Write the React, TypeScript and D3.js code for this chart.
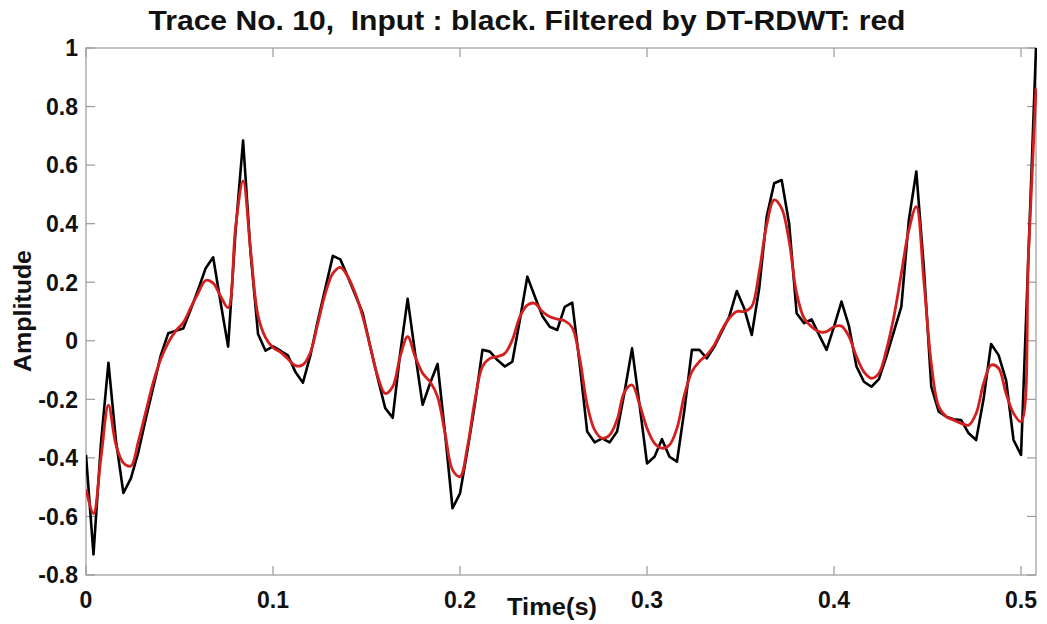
import React from "react";
import * as d3 from "d3";

const sampleInterval = 0.004;

const inputTrace = [
  -0.39, -0.73, -0.35, -0.075, -0.34, -0.52, -0.47, -0.38, -0.265, -0.158,
  -0.05, 0.026, 0.034, 0.042, 0.107, 0.175, 0.248, 0.285, 0.13, -0.02,
  0.377, 0.684, 0.3, 0.023, -0.034, -0.019, -0.034, -0.05, -0.107, -0.143,
  -0.05, 0.07, 0.18, 0.29, 0.278, 0.219, 0.156, 0.094, -0.02, -0.128,
  -0.23, -0.263, -0.043, 0.143, -0.043, -0.219, -0.145, -0.079, -0.316, -0.572,
  -0.521, -0.373, -0.214, -0.031, -0.037, -0.066, -0.088, -0.071, 0.071, 0.219,
  0.151, 0.085, 0.048, 0.037, 0.116, 0.13, -0.08, -0.31, -0.347, -0.333,
  -0.347, -0.31, -0.174, -0.026, -0.219, -0.419, -0.396, -0.336, -0.396, -0.413,
  -0.236, -0.031, -0.031, -0.06, -0.02, 0.031, 0.083, 0.17, 0.11, 0.02,
  0.18, 0.424, 0.538, 0.549, 0.4, 0.094, 0.06, 0.073, 0.02, -0.031,
  0.048, 0.134, 0.05, -0.088, -0.14, -0.157, -0.131, -0.054, 0.031, 0.117,
  0.412, 0.578, 0.253, -0.157, -0.242, -0.259, -0.268, -0.271, -0.316, -0.339,
  -0.197, -0.011, -0.049, -0.134, -0.339, -0.39, 0.3, 1.0,
];

const filteredTrace = [
  -0.507, -0.59, -0.4, -0.22, -0.355, -0.417, -0.428, -0.344, -0.242, -0.141,
  -0.062, -0.006, 0.034, 0.062, 0.113, 0.163, 0.206, 0.197, 0.152, 0.113,
  0.389, 0.546, 0.31, 0.085, 0.011, -0.023, -0.039, -0.062, -0.085, -0.082,
  -0.04, 0.06, 0.162, 0.23, 0.251, 0.219, 0.162, 0.082, -0.02, -0.122,
  -0.18, -0.157, -0.054, 0.014, -0.054, -0.111, -0.14, -0.191, -0.316, -0.441,
  -0.464, -0.362, -0.202, -0.088, -0.06, -0.054, -0.043, 0.003, 0.082, 0.122,
  0.128, 0.1, 0.082, 0.074, 0.068, 0.045, -0.06, -0.219, -0.305, -0.333,
  -0.322, -0.27, -0.174, -0.151, -0.217, -0.299, -0.35, -0.367, -0.356, -0.299,
  -0.185, -0.105, -0.071, -0.048, -0.014, 0.037, 0.077, 0.1, 0.1, 0.117,
  0.236, 0.396, 0.481, 0.452, 0.34, 0.162, 0.077, 0.048, 0.031, 0.031,
  0.048, 0.05, 0.014, -0.054, -0.106, -0.128, -0.111, -0.031, 0.082, 0.23,
  0.378, 0.458, 0.208, -0.077, -0.225, -0.259, -0.271, -0.282, -0.288, -0.248,
  -0.145, -0.083, -0.094, -0.18, -0.248, -0.276, 0.3, 0.862,
];

const xTicks = [0, 0.1, 0.2, 0.3, 0.4, 0.5];
const xTickLabels = ["0", "0.1", "0.2", "0.3", "0.4", "0.5"];
const yTicks = [-0.8, -0.6, -0.4, -0.2, 0, 0.2, 0.4, 0.6, 0.8, 1];
const yTickLabels = ["-0.8", "-0.6", "-0.4", "-0.2", "0", "0.2", "0.4", "0.6", "0.8", "1"];

const titleText = "Trace No. 10,  Input : black. Filtered by DT-RDWT: red";
const xLabel = "Time(s)";
const yLabel = "Amplitude";

export default function App() {
  const W = 1047;
  const H = 624;
  const left = 86;
  const right = 1036;
  const top = 48;
  const bottom = 575;
  const tMax = (inputTrace.length - 1) * sampleInterval;

  const x = d3.scaleLinear().domain([0, tMax]).range([left, right]);
  const y = d3.scaleLinear().domain([-0.8, 1]).range([bottom, top]);

  const line = d3
    .line<number>()
    .x((_, i) => x(i * sampleInterval))
    .y((d) => y(d));
  const smoothLine = d3
    .line<number>()
    .x((_, i) => x(i * sampleInterval))
    .y((d) => y(d))
    .curve(d3.curveCatmullRom.alpha(0.5));

  const font = "'Liberation Sans', Arial, Helvetica, sans-serif";
  const axisColor = "#9a9a9a";
  const tickLen = 9;

  return (
    <svg
      width={W}
      height={H}
      style={{ position: "absolute", left: 0, top: 0, background: "#fff" }}
      fontFamily={font}
    >
      <defs>
        <clipPath id="plotClip">
          <rect x={left} y={top} width={right - left + 1} height={bottom - top} />
        </clipPath>
      </defs>
      <rect x={0} y={0} width={W} height={H} fill="#fff" />

      {/* axes box */}
      <rect
        x={left}
        y={top}
        width={right - left}
        height={bottom - top}
        fill="none"
        stroke={axisColor}
        strokeWidth={1.2}
      />
      {xTicks.map((t) => (
        <g key={"xt" + t}>
          <line x1={x(t)} x2={x(t)} y1={bottom} y2={bottom - tickLen} stroke={axisColor} strokeWidth={1.2} />
          <line x1={x(t)} x2={x(t)} y1={top} y2={top + tickLen} stroke={axisColor} strokeWidth={1.2} />
        </g>
      ))}
      {yTicks.map((v) => (
        <g key={"yt" + v}>
          <line x1={left} x2={left + tickLen} y1={y(v)} y2={y(v)} stroke={axisColor} strokeWidth={1.2} />
          <line x1={right} x2={right - tickLen} y1={y(v)} y2={y(v)} stroke={axisColor} strokeWidth={1.2} />
        </g>
      ))}

      {/* data */}
      <g clipPath="url(#plotClip)">
        <path d={line(inputTrace) || ""} fill="none" stroke="#000" strokeWidth={2.6} strokeLinejoin="round" />
        <path d={smoothLine(filteredTrace) || ""} fill="none" stroke="#d41f1f" strokeWidth={2.8} strokeLinejoin="round" />
      </g>

      {/* tick labels */}
      {yTicks.map((v, i) => (
        <text
          key={"yl" + v}
          x={78}
          y={y(v)}
          dy="0.36em"
          textAnchor="end"
          fontSize={23}
          fontWeight="bold"
          fill="#111"
        >
          {yTickLabels[i]}
        </text>
      ))}
      {xTicks.map((t, i) => (
        <text
          key={"xl" + t}
          x={x(t)}
          y={608}
          textAnchor="middle"
          fontSize={23}
          fontWeight="bold"
          fill="#111"
        >
          {xTickLabels[i]}
        </text>
      ))}

      {/* labels */}
      <text
        x={552}
        y={615}
        textAnchor="middle"
        fontSize={24}
        fontWeight="bold"
        fill="#111"
        textLength={90}
        lengthAdjust="spacingAndGlyphs"
      >
        {xLabel}
      </text>
      <text
        transform={`translate(31, 311) rotate(-90)`}
        textAnchor="middle"
        fontSize={24}
        fontWeight="bold"
        fill="#111"
        textLength={122}
        lengthAdjust="spacingAndGlyphs"
      >
        {yLabel}
      </text>
      <text
        x={527}
        y={30}
        textAnchor="middle"
        fontSize={28}
        fontWeight="bold"
        fill="#111"
        textLength={757}
        lengthAdjust="spacingAndGlyphs"
        style={{ whiteSpace: "pre" }}
      >
        {titleText}
      </text>
    </svg>
  );
}
